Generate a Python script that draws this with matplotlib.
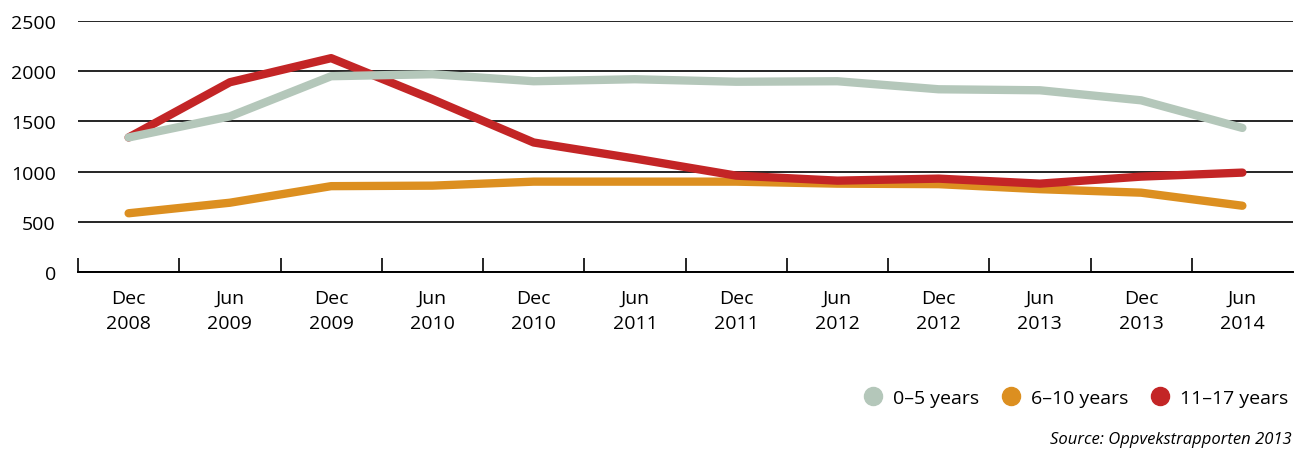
import matplotlib.pyplot as plt
from matplotlib.lines import Line2D

plt.rcParams['font.family'] = ['Open Sans', 'DejaVu Sans']

periods = ['Dec\n2008', 'Jun\n2009', 'Dec\n2009', 'Jun\n2010', 'Dec\n2010', 'Jun\n2011',
           'Dec\n2011', 'Jun\n2012', 'Dec\n2012', 'Jun\n2013', 'Dec\n2013', 'Jun\n2014']
age_0_5 = [1340, 1550, 1950, 1970, 1900, 1920, 1895, 1900, 1820, 1810, 1710, 1435]
age_6_10 = [585, 690, 855, 860, 900, 900, 900, 880, 875, 825, 790, 660]
age_11_17 = [1340, 1890, 2130, 1720, 1290, 1130, 960, 910, 930, 880, 950, 990]

series = [
    ('0\u20135 years', age_0_5, '#b4c7ba'),
    ('6\u201310 years', age_6_10, '#dc8f20'),
    ('11\u201317 years', age_11_17, '#c32526'),
]

fig = plt.figure(figsize=(12.98, 4.52), dpi=100)
ax = fig.add_axes([78 / 1298, (452 - 273) / 452, (1293 - 78) / 1298, (273 - 22) / 452])

x = list(range(len(periods)))
# orange first, then red, grey last so it sits on top where lines cross
for idx in [1, 2, 0]:
    name, vals, col = series[idx]
    ax.plot(x, vals, color=col, lw=6, solid_capstyle='round',
            solid_joinstyle='round', zorder=3, clip_on=False)

ax.set_xlim(-0.5, 11.5)
ax.set_ylim(0, 2500)
ax.set_yticks([0, 500, 1000, 1500, 2000, 2500])
ax.yaxis.grid(True, color='black', lw=1.2)
ax.set_axisbelow(True)
for s in ['top', 'right', 'left']:
    ax.spines[s].set_visible(False)
ax.spines['bottom'].set_linewidth(1.4)
ax.tick_params(axis='y', length=0, pad=16, labelsize=14)

# ticks sit on the boundaries, labels in the middle of each period
ax.set_xticks([i - 0.5 for i in range(len(periods))])
ax.set_xticklabels([])
ax.set_xticks(x, minor=True)
ax.set_xticklabels(periods, minor=True, fontsize=14, linespacing=1.5)
ax.tick_params(axis='x', which='major', direction='in', length=10, width=1.2)
ax.tick_params(axis='x', which='minor', length=0, pad=12)

handles = [Line2D([], [], ls='none', marker='o', markersize=13, color=c, label=n)
           for n, v, c in series]
fig.legend(handles=handles, loc='center right', bbox_to_anchor=(1296 / 1298, 1 - 399 / 452),
           ncol=3, frameon=False, fontsize=14, handletextpad=0.45, columnspacing=1.0,
           borderaxespad=0, handlelength=1.2)

fig.text(1292 / 1298, 1 - 440 / 452, 'Source: Oppvekstrapporten 2013', ha='right',
         va='center', fontsize=12, style='italic')

fig.savefig('out.png', dpi=100)
